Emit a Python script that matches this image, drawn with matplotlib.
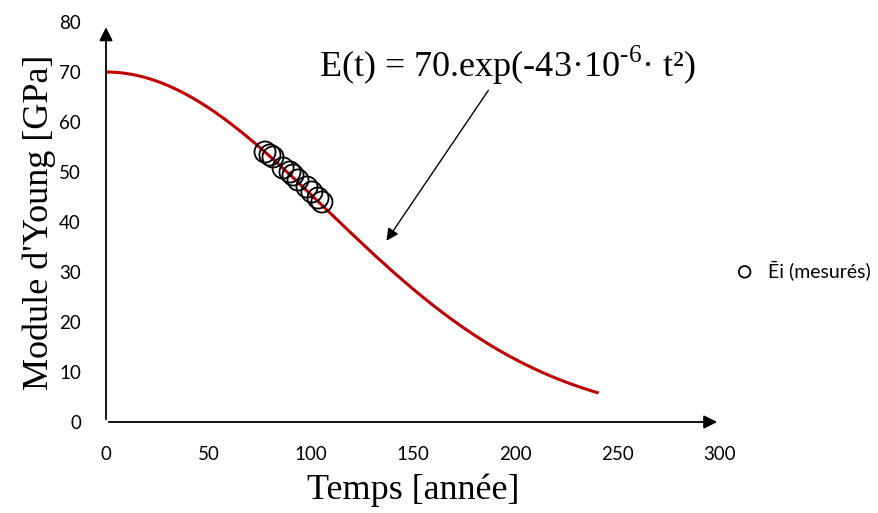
import numpy as np
import matplotlib
matplotlib.use("Agg")
import matplotlib.pyplot as plt

plt.rcParams["mathtext.fontset"] = "custom"
plt.rcParams["mathtext.rm"] = "Liberation Serif"

# modèle E(t) = 70.exp(-43e-6 t^2)
E0 = 70
k = 43e-6
t_model = np.linspace(0, 240, 300)
E_model = E0 * np.exp(-k * t_model ** 2)

# points mesurés
t_mes = [77.7, 80.1, 81.6, 86.5, 89.9, 91.4, 93.8, 98.2, 100.6, 103.6, 105.5]
E_mes = [54.0, 53.4, 53.0, 50.8, 50.0, 49.4, 48.4, 47.0, 46.0, 44.8, 44.0]

xticks = [0, 50, 100, 150, 200, 250, 300]
yticks = [0, 10, 20, 30, 40, 50, 60, 70, 80]

fig = plt.figure(figsize=(8.79, 5.13), dpi=100)
ax = fig.add_axes([0.1206, 0.1774, 0.6985, 0.7797])

ax.plot(t_model, E_model, color="#c00000", lw=2.2, zorder=2)
ax.scatter(t_mes, E_mes, s=230, facecolors="none", edgecolors="black",
           linewidths=1.3, zorder=3, label="Ēi (mesurés)")

ax.set_xlim(0, 300)
ax.set_ylim(0, 80)
for s in ax.spines.values():
    s.set_visible(False)
ax.set_xticks(xticks)
ax.set_yticks(yticks)
ax.tick_params(length=0, labelsize=13.5)
ax.tick_params(axis="x", pad=17)
ax.tick_params(axis="y", pad=18)
for lab in ax.get_xticklabels() + ax.get_yticklabels():
    lab.set_family("Lato")

# axes fléchés
ax.annotate("", xy=(300, 0), xytext=(0, 0),
            arrowprops=dict(arrowstyle="-|>", color="black", lw=1.3, mutation_scale=20),
            annotation_clip=False)
ax.annotate("", xy=(0, 79.5), xytext=(0, 0),
            arrowprops=dict(arrowstyle="-|>", color="black", lw=1.3, mutation_scale=20),
            annotation_clip=False)

ax.set_xlabel("Temps [année]", family="Liberation Serif", fontsize=26, labelpad=8)
ax.set_ylabel("Module d'Young [GPa]", family="Liberation Serif", fontsize=26, labelpad=2)

ax.text(196, 71.4, r"E(t) = 70.exp(-43·10$^{\text{-6}}$· t²)", family="Liberation Serif",
        fontsize=26, ha="center", va="center")
ax.annotate("", xy=(136.3, 35.8), xytext=(187.6, 66.8),
            arrowprops=dict(arrowstyle="-|>", color="black", lw=1.0, mutation_scale=18))

leg = ax.legend(loc="center left", bbox_to_anchor=(0.98, 0.38), frameon=False,
                prop={"family": "Lato", "size": 14}, handletextpad=0.2,
                markerscale=0.55)

fig.savefig("out.png", dpi=100)
